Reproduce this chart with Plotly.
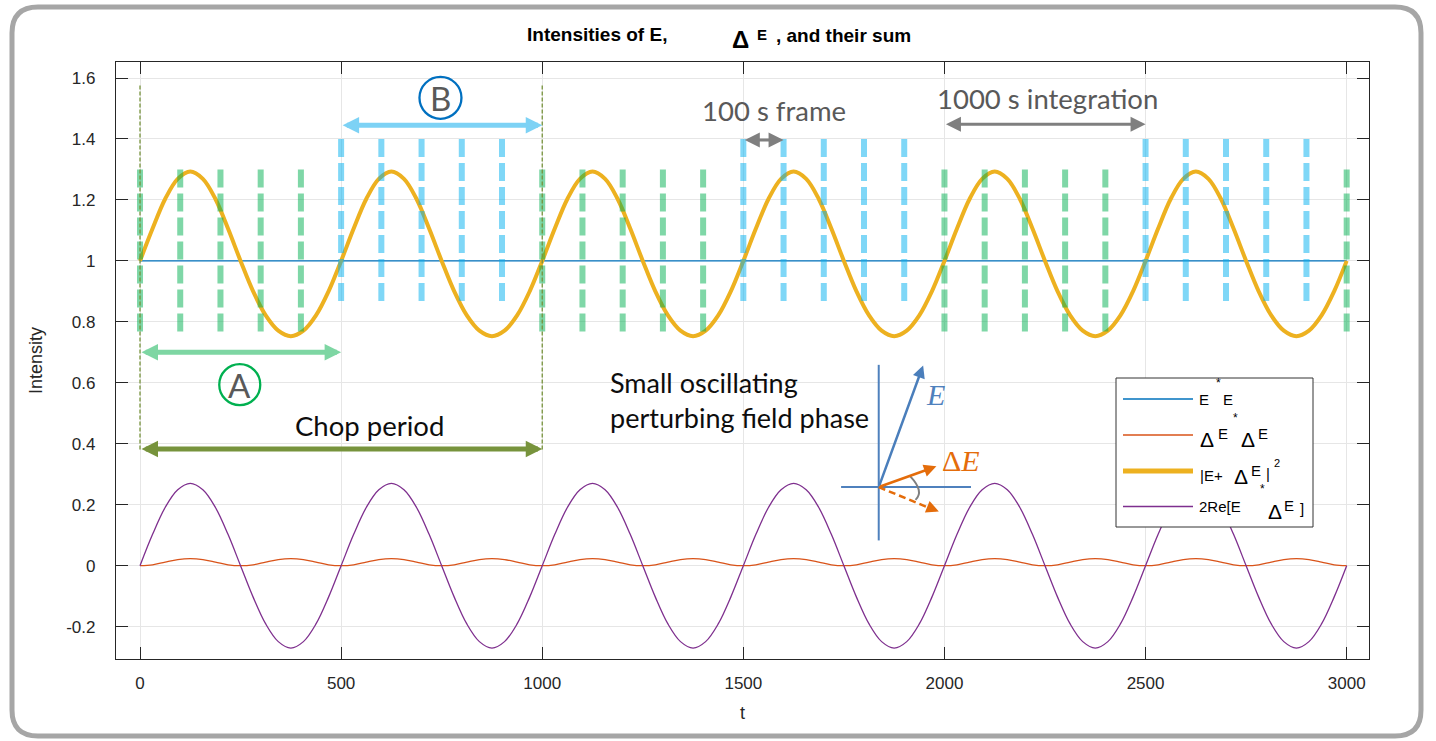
import plotly.graph_objects as go

# ---------------- data ----------------
t = [0, 31.25, 62.5, 93.75, 125, 156.25, 187.5, 218.75, 250, 281.25, 312.5, 343.75, 375, 406.25, 437.5, 468.75,
     500, 531.25, 562.5, 593.75, 625, 656.25, 687.5, 718.75, 750, 781.25, 812.5, 843.75, 875, 906.25, 937.5, 968.75,
     1000, 1031.25, 1062.5, 1093.75, 1125, 1156.25, 1187.5, 1218.75, 1250, 1281.25, 1312.5, 1343.75, 1375, 1406.25, 1437.5, 1468.75,
     1500, 1531.25, 1562.5, 1593.75, 1625, 1656.25, 1687.5, 1718.75, 1750, 1781.25, 1812.5, 1843.75, 1875, 1906.25, 1937.5, 1968.75,
     2000, 2031.25, 2062.5, 2093.75, 2125, 2156.25, 2187.5, 2218.75, 2250, 2281.25, 2312.5, 2343.75, 2375, 2406.25, 2437.5, 2468.75,
     2500, 2531.25, 2562.5, 2593.75, 2625, 2656.25, 2687.5, 2718.75, 2750, 2781.25, 2812.5, 2843.75, 2875, 2906.25, 2937.5, 2968.75,
     3000]

t_E = [0, 3000]
E_sq = [1.0, 1.0]

dE_sq = [0, 0.003, 0.012, 0.020, 0.023, 0.020, 0.012, 0.003, 0, 0.003, 0.012, 0.020, 0.023, 0.020, 0.012, 0.003,
         0, 0.003, 0.012, 0.020, 0.023, 0.020, 0.012, 0.003, 0, 0.003, 0.012, 0.020, 0.023, 0.020, 0.012, 0.003,
         0, 0.003, 0.012, 0.020, 0.023, 0.020, 0.012, 0.003, 0, 0.003, 0.012, 0.020, 0.023, 0.020, 0.012, 0.003,
         0, 0.003, 0.012, 0.020, 0.023, 0.020, 0.012, 0.003, 0, 0.003, 0.012, 0.020, 0.023, 0.020, 0.012, 0.003,
         0, 0.003, 0.012, 0.020, 0.023, 0.020, 0.012, 0.003, 0, 0.003, 0.012, 0.020, 0.023, 0.020, 0.012, 0.003,
         0, 0.003, 0.012, 0.020, 0.023, 0.020, 0.012, 0.003, 0, 0.003, 0.012, 0.020, 0.023, 0.020, 0.012, 0.003,
         0]

total = [1.0, 1.106, 1.203, 1.269, 1.293, 1.269, 1.203, 1.106, 1.0, 0.900, 0.821, 0.771, 0.753, 0.771, 0.821, 0.900,
         1.0, 1.106, 1.203, 1.269, 1.293, 1.269, 1.203, 1.106, 1.0, 0.900, 0.821, 0.771, 0.753, 0.771, 0.821, 0.900,
         1.0, 1.106, 1.203, 1.269, 1.293, 1.269, 1.203, 1.106, 1.0, 0.900, 0.821, 0.771, 0.753, 0.771, 0.821, 0.900,
         1.0, 1.106, 1.203, 1.269, 1.293, 1.269, 1.203, 1.106, 1.0, 0.900, 0.821, 0.771, 0.753, 0.771, 0.821, 0.900,
         1.0, 1.106, 1.203, 1.269, 1.293, 1.269, 1.203, 1.106, 1.0, 0.900, 0.821, 0.771, 0.753, 0.771, 0.821, 0.900,
         1.0, 1.106, 1.203, 1.269, 1.293, 1.269, 1.203, 1.106, 1.0, 0.900, 0.821, 0.771, 0.753, 0.771, 0.821, 0.900,
         1.0]

cross = [0, 0.103, 0.191, 0.249, 0.27, 0.249, 0.191, 0.103, 0, -0.103, -0.191, -0.249, -0.27, -0.249, -0.191, -0.103,
         0, 0.103, 0.191, 0.249, 0.27, 0.249, 0.191, 0.103, 0, -0.103, -0.191, -0.249, -0.27, -0.249, -0.191, -0.103,
         0, 0.103, 0.191, 0.249, 0.27, 0.249, 0.191, 0.103, 0, -0.103, -0.191, -0.249, -0.27, -0.249, -0.191, -0.103,
         0, 0.103, 0.191, 0.249, 0.27, 0.249, 0.191, 0.103, 0, -0.103, -0.191, -0.249, -0.27, -0.249, -0.191, -0.103,
         0, 0.103, 0.191, 0.249, 0.27, 0.249, 0.191, 0.103, 0, -0.103, -0.191, -0.249, -0.27, -0.249, -0.191, -0.103,
         0, 0.103, 0.191, 0.249, 0.27, 0.249, 0.191, 0.103, 0, -0.103, -0.191, -0.249, -0.27, -0.249, -0.191, -0.103,
         0]

frames_A = [0, 100, 200, 300, 400, 1000, 1100, 1200, 1300, 1400,
            2000, 2100, 2200, 2300, 2400, 3000]
frames_A_span = [1.30, 0.76]
frames_B = [500, 600, 700, 800, 900, 1500, 1600, 1700, 1800, 1900,
            2500, 2600, 2700, 2800, 2900]
frames_B_span = [1.40, 0.86]
chop_marks = [0, 1000]
chop_span = [1.575, 0.375]

x_ticks = [0, 500, 1000, 1500, 2000, 2500, 3000]
x_ticktext = ["0", "500", "1000", "1500", "2000", "2500", "3000"]
y_ticks = [-0.2, 0, 0.2, 0.4, 0.6, 0.8, 1.0, 1.2, 1.4, 1.6]
y_ticktext = ["-0.2", "0", "0.2", "0.4", "0.6", "0.8", "1", "1.2", "1.4", "1.6"]

# ---------------- layout geometry ----------------
W_FIG, H_FIG = 1436, 741
ML, MR, MT, MB = 116, 67, 62, 82
PW, PH = W_FIG - ML - MR, H_FIG - MT - MB


def P(px, py):
    """figure pixel -> paper coords"""
    return (px - ML) / PW, (MT + PH - py) / PH


AX = "#262626"
fig = go.Figure()

fig.add_trace(go.Scatter(x=t_E, y=E_sq, mode="lines", line=dict(color="#0072bd", width=1.2),
                         hoverinfo="skip", showlegend=False))
fig.add_trace(go.Scatter(x=t, y=dE_sq, mode="lines", line=dict(color="#d95319", width=1.3, shape="spline"),
                         hoverinfo="skip", showlegend=False))
fig.add_trace(go.Scatter(x=t, y=total, mode="lines", line=dict(color="#edb120", width=4, shape="spline"),
                         hoverinfo="skip", showlegend=False))
fig.add_trace(go.Scatter(x=t, y=cross, mode="lines", line=dict(color="#7e2f8e", width=1.3, shape="spline"),
                         hoverinfo="skip", showlegend=False))

for xv in frames_A:
    fig.add_trace(go.Scatter(x=[xv, xv], y=frames_A_span, mode="lines",
                             line=dict(color="rgba(0,176,80,0.5)", width=6, dash="18px,6px"),
                             hoverinfo="skip", showlegend=False))
for xv in frames_B:
    fig.add_trace(go.Scatter(x=[xv, xv], y=frames_B_span, mode="lines",
                             line=dict(color="rgba(0,176,240,0.5)", width=6, dash="18px,6px"),
                             hoverinfo="skip", showlegend=False))
for xv in chop_marks:
    fig.add_trace(go.Scatter(x=[xv, xv], y=chop_span, mode="lines",
                             line=dict(color="#77933c", width=1.3, dash="4px,2px"),
                             hoverinfo="skip", showlegend=False))

annotations = []
shapes = []


def arrow(x0, y0, x1, y1, color, width, size, both=True, head=2):
    return dict(x=x1, y=y1, ax=x0, ay=y0, xref="x", yref="y", axref="x", ayref="y",
                text="", showarrow=True, arrowhead=head, startarrowhead=head,
                arrowside="end+start" if both else "end",
                arrowsize=size, startarrowsize=size, arrowwidth=width,
                arrowcolor=color, standoff=0, startstandoff=0)


def txt(x, y, text, size, color, family="Lato", xanchor="center", xref="x", yref="y", align="center"):
    return dict(x=x, y=y, xref=xref, yref=yref, text=text, showarrow=False,
                xanchor=xanchor, yanchor="middle", align=align,
                font=dict(size=size, color=color, family=family))


def ptxt(px, py, text, size, color="#000000", family="Liberation Sans", xanchor="left"):
    x, y = P(px, py)
    return txt(x, y, text, size, color, family, xanchor, "paper", "paper")


# arrows
annotations.append(arrow(0, 0.70, 500, 0.70, "#7ed6a3", 5, 0.66))
annotations.append(arrow(500, 1.445, 1000, 1.445, "#7dd2f5", 5, 0.66))
annotations.append(arrow(0, 0.383, 1000, 0.383, "#77933c", 5, 0.66))
annotations.append(arrow(1500, 1.397, 1600, 1.397, "#7f7f7f", 3, 1.0))
annotations.append(arrow(2000, 1.448, 2500, 1.448, "#7f7f7f", 3, 1.0))

# texts
annotations.append(txt(1575, 1.494, "100 s frame", 27.5, "#595959"))
annotations.append(txt(2256, 1.533, "1000 s integration", 27.5, "#595959"))
annotations.append(txt(571, 0.459, "Chop period", 27.5, "#0d0d0d"))
annotations.append(txt(1164, 0.544, "Small oscillating<br>perturbing field phase", 27, "#0d0d0d",
                       xanchor="left", align="left"))
annotations.append(txt(248, 0.594, "A", 33, "#595959"))
annotations.append(txt(747, 1.535, "B", 33, "#595959"))

shapes.append(dict(type="circle", xref="x", yref="y", xsizemode="pixel", ysizemode="pixel",
                   xanchor=248, yanchor=0.594, x0=-20.5, x1=20.5, y0=-20.5, y1=20.5,
                   line=dict(color="#00b050", width=2.3)))
shapes.append(dict(type="circle", xref="x", yref="y", xsizemode="pixel", ysizemode="pixel",
                   xanchor=747, yanchor=1.535, x0=-21, x1=21, y0=-21, y1=21,
                   line=dict(color="#0070c0", width=2.3)))

# vector diagram
ox, oy = 1836.6, 0.258
shapes.append(dict(type="line", xref="x", yref="y", x0=ox, x1=ox, y0=0.083, y1=0.659,
                   line=dict(color="#4f81bd", width=2)))
shapes.append(dict(type="line", xref="x", yref="y", x0=1743, x1=2066, y0=oy, y1=oy,
                   line=dict(color="#4f81bd", width=2)))
annotations.append(arrow(ox, oy, 1947, 0.657, "#4a7ebb", 2.5, 1.0, both=False))
annotations.append(arrow(ox, oy, 1980, 0.326, "#e46c0a", 2.5, 1.0, both=False))
shapes.append(dict(type="line", xref="x", yref="y", x0=ox, y0=oy, x1=1972, y1=0.184,
                   line=dict(color="#e46c0a", width=2.5, dash="7px,4px")))
annotations.append(dict(x=1986, y=0.178, xref="x", yref="y", ax=-11.1, ay=-4.5,
                        text="", showarrow=True, arrowhead=2, arrowsize=1.0, arrowwidth=2.5,
                        arrowcolor="#e46c0a", standoff=0))
shapes.append(dict(type="path", xref="x", yref="y",
                   path="M 1915,0.293 Q 1950.5,0.2435 1928,0.216",
                   line=dict(color="#7f7f7f", width=2)))
annotations.append(txt(1978, 0.561, "<i>E</i>", 30, "#4f81bd", family="Liberation Serif"))
annotations.append(txt(2040, 0.345, "Δ<i>E</i>", 30, "#e46c0a", family="Liberation Serif"))

# title
annotations.append(ptxt(525, 34, "<b>Intensities of E,</b>", 19))
annotations.append(ptxt(740.7, 40, "<b>Δ</b>", 24, xanchor="center"))
annotations.append(ptxt(755, 34.5, "<b>E</b>", 15))
annotations.append(ptxt(774, 36, "<b>, and their sum</b>", 19))

# legend (manual)
lx0, ly0 = P(1116, 378)
lx1, ly1 = P(1313, 527)
shapes.append(dict(type="rect", xref="paper", yref="paper", x0=lx0, x1=lx1, y0=ly1, y1=ly0,
                   fillcolor="white", line=dict(color="#333333", width=1), layer="above"))
for rowy, col, wid in [(399, "#0072bd", 1.5), (435, "#d95319", 1.5), (471, "#edb120", 5), (506.5, "#7e2f8e", 1.5)]:
    a, b = P(1123, rowy)
    c, _ = P(1193, rowy)
    shapes.append(dict(type="line", xref="paper", yref="paper", x0=a, x1=c, y0=b, y1=b,
                       line=dict(color=col, width=wid), layer="above"))

annotations += [
    ptxt(1197, 399, "E", 15), ptxt(1213.5, 383, "*", 12), ptxt(1221, 399, "E", 15),
    ptxt(1198, 439, "Δ", 21), ptxt(1216, 433.5, "E", 15), ptxt(1231, 418, "*", 12),
    ptxt(1239, 439, "Δ", 21), ptxt(1256, 433.5, "E", 15),
    ptxt(1198, 475.5, "|E+", 15), ptxt(1232, 477, "Δ", 21), ptxt(1249, 470, "E", 15),
    ptxt(1264, 473.5, "|", 15), ptxt(1272, 462.5, "2", 11),
    ptxt(1197, 506.7, "2Re[E", 15), ptxt(1257.5, 489.5, "*", 12), ptxt(1266, 511, "Δ", 21),
    ptxt(1282, 505, "E", 15), ptxt(1298, 508.5, "]", 15),
]

# outer rounded border
bl, br, bt, bb, r = 12, 1421, 7, 736, 26


def pp(px, py):
    x, y = P(px, py)
    return f"{x:.5f},{y:.5f}"


border = (f"M {pp(bl + r, bt)} L {pp(br - r, bt)} Q {pp(br, bt)} {pp(br, bt + r)} "
          f"L {pp(br, bb - r)} Q {pp(br, bb)} {pp(br - r, bb)} "
          f"L {pp(bl + r, bb)} Q {pp(bl, bb)} {pp(bl, bb - r)} "
          f"L {pp(bl, bt + r)} Q {pp(bl, bt)} {pp(bl + r, bt)} Z")
shapes.append(dict(type="path", xref="paper", yref="paper", path=border,
                   line=dict(color="#a6a6a6", width=5), layer="above"))

fig.update_layout(
    width=W_FIG, height=H_FIG,
    margin=dict(l=ML, r=MR, t=MT, b=MB, pad=0),
    paper_bgcolor="white", plot_bgcolor="white",
    font=dict(family="Liberation Sans", color=AX),
    showlegend=False,
    annotations=annotations, shapes=shapes,
    xaxis=dict(range=[-59.7, 3055.5], tickvals=x_ticks, ticktext=x_ticktext,
               ticks="inside", ticklen=12, tickwidth=1.3, tickcolor=AX,
               showline=True, linecolor=AX, linewidth=1.3, mirror="ticks",
               showgrid=True, gridcolor="#e6e6e6", gridwidth=1, zeroline=False,
               tickfont=dict(size=17, color=AX), ticklabelstandoff=8,
               title=dict(text="t", font=dict(size=18, color=AX), standoff=14)),
    yaxis=dict(range=[-0.306, 1.6525], tickvals=y_ticks, ticktext=y_ticktext,
               ticks="inside", ticklen=12, tickwidth=1.3, tickcolor=AX,
               showline=True, linecolor=AX, linewidth=1.3, mirror="ticks",
               showgrid=True, gridcolor="#e6e6e6", gridwidth=1, zeroline=False,
               tickfont=dict(size=17, color=AX), ticklabelstandoff=16,
               title=dict(text="Intensity", font=dict(size=18, color=AX), standoff=18)),
)

fig.write_html("out.html")
